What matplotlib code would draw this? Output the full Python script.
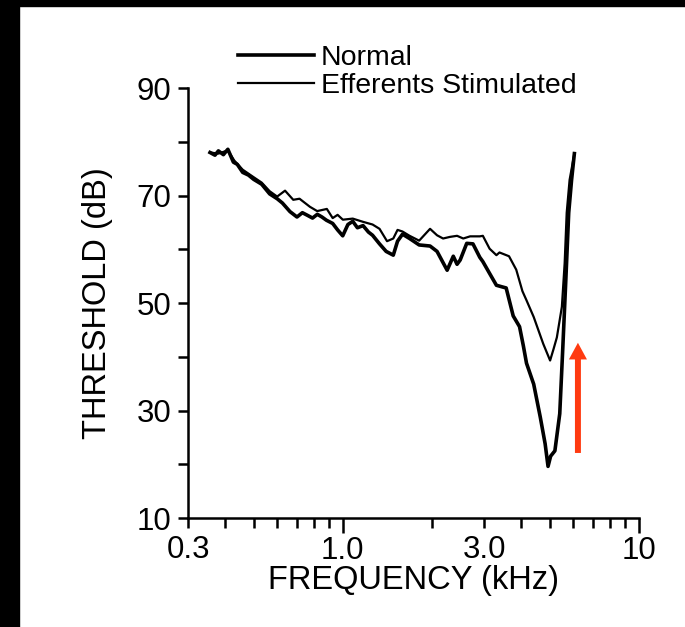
import numpy as np
import matplotlib
matplotlib.use('Agg')
import matplotlib.pyplot as plt
from matplotlib.patches import Rectangle

plt.rcParams['font.family'] = ['Liberation Sans', 'DejaVu Sans']

# tuning curve, normal (thick line)
freq_normal = [0.356, 0.37, 0.38, 0.395, 0.409, 0.427, 0.44, 0.459, 0.48, 0.50,
               0.532, 0.566, 0.600, 0.625, 0.663, 0.70, 0.73, 0.76, 0.79, 0.82,
               0.85, 0.88, 0.924, 0.96, 0.999, 1.04, 1.08, 1.12, 1.17, 1.22,
               1.26, 1.33, 1.40, 1.48, 1.53, 1.59, 1.68, 1.81, 1.97, 2.08,
               2.18, 2.25, 2.36, 2.43, 2.49, 2.62, 2.75, 2.90, 2.97, 3.13,
               3.30, 3.45, 3.56, 3.76, 3.95, 4.07, 4.17, 4.41, 4.64, 4.82,
               4.93, 5.03, 5.20, 5.40, 5.53, 5.66, 5.79, 5.92, 6.05]
thr_normal = [78.0, 77.5, 78.3, 77.6, 78.6, 76.2, 75.8, 74.3, 73.8, 73.0,
              72.1, 70.3, 69.4, 68.6, 67.0, 66.0, 66.8, 66.3, 65.8, 66.5,
              66.0, 65.4, 64.8, 63.6, 62.5, 64.6, 65.2, 64.0, 64.4, 63.2,
              62.6, 61.0, 59.6, 58.9, 61.5, 62.8, 62.0, 60.8, 60.6, 59.6,
              57.5, 56.1, 58.7, 57.2, 58.0, 61.1, 61.0, 58.5, 57.7, 55.5,
              53.3, 53.0, 52.8, 47.6, 45.6, 42.0, 38.8, 34.9, 28.8, 23.8,
              19.6, 21.5, 22.5, 29.4, 41.7, 54.2, 66.8, 72.9, 77.8]

# tuning curve, efferents stimulated (thin line)
freq_eff = [0.356, 0.38, 0.409, 0.43, 0.459, 0.50, 0.532, 0.566, 0.600, 0.638,
            0.68, 0.714, 0.774, 0.819, 0.883, 0.924, 0.96, 1.0, 1.08, 1.17,
            1.26, 1.33, 1.41, 1.48, 1.53, 1.59, 1.68, 1.81, 1.97, 2.08,
            2.18, 2.30, 2.43, 2.55, 2.69, 2.90, 2.97, 3.13, 3.30, 3.38,
            3.64, 3.85, 4.04, 4.17, 4.41, 4.75, 5.01, 5.15, 5.28, 5.49,
            5.61, 5.70, 5.83, 6.05]
thr_eff = [78.0, 77.8, 78.4, 76.5, 74.8, 73.4, 72.4, 70.8, 69.8, 70.9,
           69.2, 69.4, 67.9, 67.1, 67.5, 65.8, 66.4, 65.5, 65.7, 65.1,
           64.6, 63.8, 61.5, 62.0, 63.6, 63.3, 62.5, 61.6, 63.8, 62.6,
           62.0, 62.3, 62.5, 62.0, 62.4, 62.4, 62.5, 60.1, 58.9, 59.4,
           58.7, 56.2, 52.2, 50.5, 47.4, 42.4, 39.3, 41.5, 43.6, 49.3,
           57.4, 66.8, 72.9, 77.8]

x_major = [1.0, 10.0]
x_major_labels = ['1.0', '10']
x_minor = [0.3, 0.4, 0.5, 0.6, 0.7, 0.8, 0.9, 2.0, 3.0, 4.0, 5.0, 6.0, 7.0, 8.0, 9.0]
x_minor_labels = ['0.3', '', '', '', '', '', '', '', '3.0', '', '', '', '', '', '']
y_ticks = [10, 20, 30, 40, 50, 60, 70, 80, 90]
y_labels = ['10', '', '30', '', '50', '', '70', '', '90']

# arrow marking the threshold shift at CF
arrow_freq = 6.22
arrow_from = 22.1
arrow_to = 42.6

fig = plt.figure(figsize=(6.85, 6.27), dpi=100)
ax = fig.add_axes([188 / 685, 1 - 518 / 627, (639 - 188) / 685, (518 - 88) / 627])

ax.plot(freq_normal, thr_normal, color='black', lw=2.6, label='Normal')
ax.plot(freq_eff, thr_eff, color='black', lw=1.6, label='Efferents Stimulated')

ax.set_xscale('log')
ax.set_xlim(0.3, 10)
ax.set_ylim(10, 90)

ax.set_xticks(x_major)
ax.set_xticklabels(x_major_labels)
ax.set_xticks(x_minor, minor=True)
ax.set_xticklabels(x_minor_labels, minor=True)
ax.set_yticks(y_ticks)
ax.set_yticklabels(y_labels)

ax.tick_params(axis='both', which='both', direction='out', width=1.8,
               labelsize=22.5, colors='black')
ax.tick_params(axis='x', which='major', length=11, pad=2)
ax.tick_params(axis='x', which='minor', length=7, pad=5)
ax.tick_params(axis='y', length=7, pad=5)

for s in ['top', 'right']:
    ax.spines[s].set_visible(False)
for s in ['left', 'bottom']:
    ax.spines[s].set_linewidth(1.8)

ax.set_xlabel('FREQUENCY (kHz)', fontsize=23.5, labelpad=-1)
ax.set_ylabel('THRESHOLD (dB)', fontsize=23.5, labelpad=17)

leg = ax.legend(frameon=False, loc='lower left', bbox_to_anchor=(0.111, 0.975),
                fontsize=20.5, handlelength=2.65, handletextpad=0.25,
                labelspacing=0.05, borderaxespad=0, borderpad=0)

ax.annotate('', xy=(arrow_freq, arrow_to), xytext=(arrow_freq, arrow_from),
            arrowprops=dict(facecolor='#ff3a10', edgecolor='none', width=4.3,
                            headwidth=13, headlength=12, shrink=0),
            annotation_clip=False)

# black border of the slide on the left and top
fig.add_artist(Rectangle((0, 0), 19 / 685, 1, transform=fig.transFigure,
                         color='black', zorder=10))
fig.add_artist(Rectangle((0, 1 - 6 / 627), 1, 6 / 627, transform=fig.transFigure,
                         color='black', zorder=10))

fig.savefig('out.png', dpi=100)
